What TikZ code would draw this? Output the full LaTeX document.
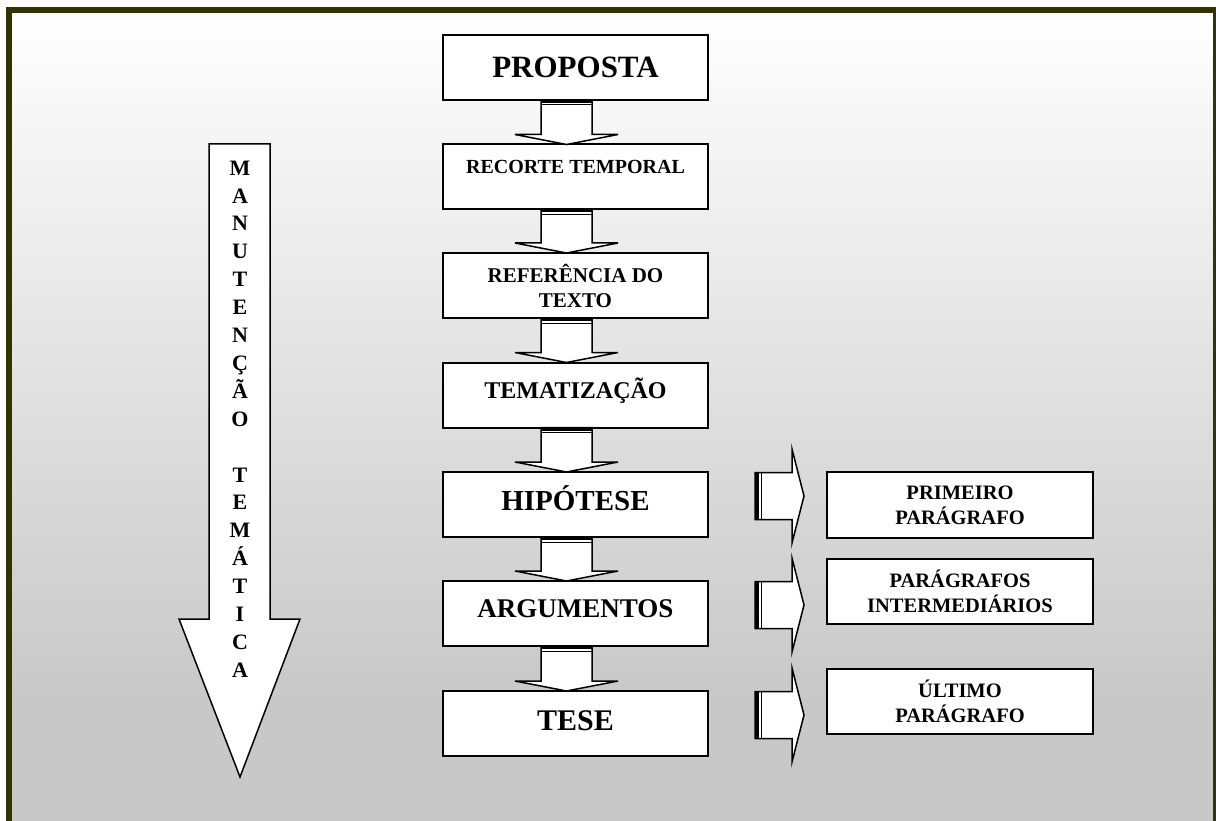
\documentclass[tikz,border=0pt]{standalone}
\usepackage{fontspec}
\setmainfont{Liberation Serif}
\usetikzlibrary{calc}
\definecolor{framecol}{RGB}{51,51,0}
\definecolor{bgbot}{RGB}{200,200,200}
\newcommand\capbox[2]{\raisebox{#1}[0.66em][0pt]{#2}}
\newcommand\fs[2]{\fontsize{#1}{#2}\selectfont}
\tikzset{
  box/.style={draw=black, line width=2pt, fill=white, minimum width=265pt,
    minimum height=65pt, inner sep=0pt, outer sep=0pt, align=center},
  sidebox/.style={box, minimum width=266pt},
  blockarrow/.style={draw=black, line width=1.5pt, fill=white, line join=miter},
}
\newcommand\downblock[2]{%
  \draw[blockarrow] let \p1=(#1.south), \p2=(#2.north) in
    (\x1-34.5pt,\y1) -- (\x1+16.5pt,\y1) -- (\x1+16.5pt,\y2+10pt) --
    (\x1+42.5pt,\y2+10pt) -- (\x1-9pt,\y2) -- (\x1-60.5pt,\y2+10pt) --
    (\x1-34.5pt,\y2+10pt) -- cycle;
  \fill let \p1=(#1.south) in (\x1-34.5pt,\y1) rectangle (\x1+16.5pt,\y1-3pt);
  \draw[line width=1pt] let \p1=(#1.south) in (\x1-34.5pt,\y1-5pt) -- (\x1+16.5pt,\y1-5pt);
}
\newcommand\rightblock[2]{%
  \draw[blockarrow] let \p1=(#1.center), \p2=(#2.west) in
    (\x2-72pt,\y1+32pt) -- (\x2-35pt,\y1+32pt) -- (\x2-35pt,\y1+55.5pt) --
    (\x2-23pt,\y1+8.5pt) -- (\x2-35pt,\y1-38.5pt) -- (\x2-35pt,\y1-15pt) --
    (\x2-72pt,\y1-15pt) -- cycle;
  \fill let \p1=(#1.center), \p2=(#2.west) in (\x2-72pt,\y1+32pt) rectangle (\x2-68pt,\y1-15pt);
  \draw[line width=1pt] let \p1=(#1.center), \p2=(#2.west) in (\x2-66pt,\y1+32pt) -- (\x2-66pt,\y1-15pt);
}
\begin{document}
\begin{tikzpicture}[x=1pt,y=-1pt]
\useasboundingbox (0,0) rectangle (1216,821);
% background
\fill[bgbot] (9,10) rectangle (1216,830);
\shade[top color=white, bottom color=bgbot] (9,10) rectangle (1216,700);
\draw[framecol, line width=6pt] (9,10) rectangle (1216,830);

% main column
\node[box, font=\bfseries\fs{31}{37}] (prop) at (575.5,67.5) {\capbox{0pt}{PROPOSTA}};
\node[box, font=\bfseries\fs{20}{24}] (rec) at (575.5,177) {\capbox{10pt}{RECORTE TEMPORAL}};
\node[box, font=\bfseries\fs{21}{25}] (ref) at (575.5,285.5) {REFERÊNCIA DO\\TEXTO};
\node[box, font=\bfseries\fs{24}{28}] (tem) at (575.5,395) {\capbox{4pt}{TEMATIZAÇÃO}};
\node[box, font=\bfseries\fs{29}{34}] (hip) at (575.5,504.5) {\capbox{4pt}{HIPÓTESE}};
\node[box, font=\bfseries\fs{27}{32}] (arg) at (575.5,613.5) {\capbox{5pt}{ARGUMENTOS}};
\node[box, font=\bfseries\fs{30}{35}] (tese) at (575.5,723.5) {\capbox{3pt}{TESE}};

% side boxes
\node[sidebox, minimum height=66pt, font=\bfseries\fs{20.5}{25}] (p1) at (960,505) {PRIMEIRO\\PARÁGRAFO};
\node[sidebox, font=\bfseries\fs{20.5}{25}] (p2) at (960,591.5) {PARÁGRAFOS\\INTERMEDIÁRIOS};
\node[sidebox, font=\bfseries\fs{20.5}{25}] (p3) at (960,701.5) {ÚLTIMO\\PARÁGRAFO};

% block arrows
\downblock{prop}{rec}
\downblock{rec}{ref}
\downblock{ref}{tem}
\downblock{tem}{hip}
\downblock{hip}{arg}
\downblock{arg}{tese}
\rightblock{hip}{p1}
\rightblock{arg}{p2}
\rightblock{tese}{p3}

% big left arrow
\draw[blockarrow] (209,144) -- (270,144) -- (270,619) -- (300,619) -- (240,777) -- (179,619) -- (209,619) -- cycle;
\node[font=\bfseries\fs{22}{27.9}, align=center, inner sep=0pt] (mt) at (240,419)
  {M\\A\\N\\U\\T\\E\\N\\Ç\\Ã\\O\\[27.9pt]T\\E\\M\\Á\\T\\I\\C\\A};
\end{tikzpicture}
\end{document}
